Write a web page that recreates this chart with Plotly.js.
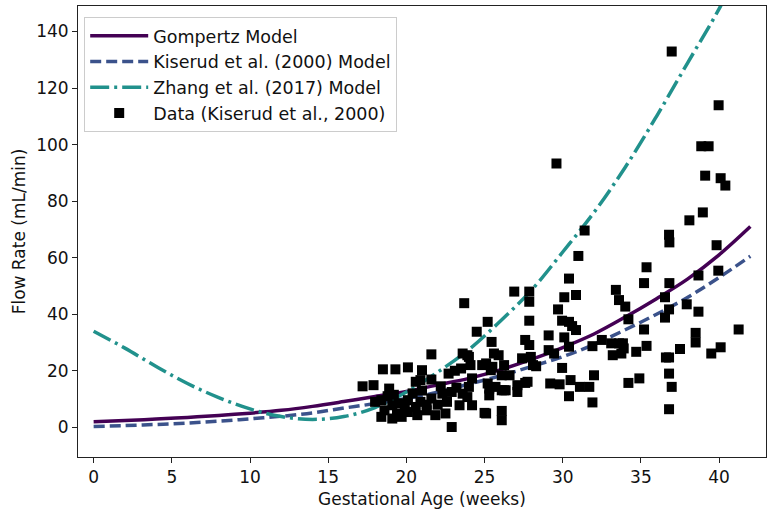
<!DOCTYPE html>
<html>
<head>
<meta charset="utf-8">
<script src="https://cdn.plot.ly/plotly-3.0.1.min.js"></script>
<style>html,body{margin:0;padding:0;background:#fff;}#chart{width:778px;height:514px;}</style>
</head>
<body>
<div id="chart"></div>
<script>
// Model curves (weeks -> mL/min)
const modelWeeks = [0,2,4,6,8,10,12,14,16,18,20,22,24,26,28,30,32,34,36,38,40,42];
const gompertz   = [2.0,2.4,2.9,3.5,4.2,5.0,6.0,7.4,9.1,10.9,12.7,15.0,17.3,20.3,24.0,28.2,33.0,39.0,45.5,52.5,61.0,71.0];
const kiserud    = [0.3,0.6,1.0,1.5,2.2,3.0,3.9,5.1,6.8,8.4,10.2,12.4,15.3,18.2,21.5,25.0,29.3,34.5,40.0,46.0,53.0,60.5];
const zhang      = [34,28,21.5,15.5,10.5,6.5,3.8,2.8,3.8,7,12.5,19.5,27.5,37.5,48.5,62,76,92,110,129,148,170];

// Measured data points (Kiserud et al., 2000)
const dataWeeks = [
36.97,39.97,38.86,39.33,39.11,40.1,40.4,38.96,38.1,36.8,36.82,39.84,35.36,35.2,36.82,39.95,38.68,36.54,36.8,37.93,38.68,36.54,34.0,34.2,35.2,41.25,38.5,38.5,33.85,35.36,34.7,37.5,40.1,39.5,36.6,36.8,36.8,34.9,34.2,36.97,36.8,
29.6,31.4,31.0,30.4,30.85,30.1,26.9,27.86,27.86,29.7,27.86,29.96,30.4,30.6,30.85,25.2,24.5,25.45,27.6,27.86,29.1,30.1,30.4,25.6,25.9,27.4,27.96,29.1,29.45,31.9,32.5,33.1,33.6,33.9,33.2,33.75,33.4,33.6,
28.3,29.96,26.6,24.85,25.2,25.7,26.25,25.3,27.1,27.6,29.2,29.8,30.5,30.4,31.1,31.7,32.0,31.9,25.0,26.1,26.1,28.1,26.25,25.5,24.1,23.9,23.7,27.75,24.0,23.9,24.2,26.35,
21.6,24.0,23.6,18.5,19.3,20.1,21.0,23.1,17.9,18.9,20.6,20.9,21.6,22.7,23.5,24.2,25.1,25.4,26.1,27.1,25.3,26.1,
18.4,19.1,20.1,20.9,21.6,22.3,22.9,23.6,18.6,19.4,20.1,20.7,21.3,21.85,22.5,23.4,18.4,19.1,19.7,22.9,25.1,
17.2,18.0,18.8,19.5,19.9,20.4,21.0,21.3,22.0,22.2,22.6,23.2,19.2,20.6];
const dataFlow = [
132.9,113.9,99.4,99.4,89.0,88.1,85.5,76.0,73.2,68.1,65.4,64.4,56.6,51.0,51.0,55.4,53.7,46.0,41.7,43.5,40.9,38.8,42.7,38.2,34.6,34.6,33.4,30.0,29.7,28.8,26.7,27.7,28.3,26.1,24.7,24.7,19.0,17.3,15.7,14.3,6.4,
93.3,69.6,60.6,52.6,46.8,46.0,48.0,48.0,44.4,41.7,37.7,37.7,37.3,35.8,34.4,37.3,33.8,30.2,30.9,29.1,32.5,31.8,28.5,26.1,25.5,24.4,24.9,27.3,26.1,28.7,30.9,29.7,29.7,27.9,25.5,26.1,48.6,45.0,
21.6,21.0,18.4,22.0,15.5,14.3,13.1,11.3,12.5,15.7,15.5,15.2,16.7,11.0,14.3,14.3,18.4,8.8,5.1,5.8,2.5,22.0,22.0,21.4,22.0,25.5,43.9,16.1,14.3,10.7,7.8,13.1,
25.8,24.9,26.1,20.5,20.5,21.2,20.2,20.0,14.9,13.7,16.1,16.7,16.9,19.0,20.8,17.3,22.6,20.2,18.4,14.9,13.7,13.1,
9.6,7.8,9.6,9.0,10.2,11.9,12.5,11.9,6.0,4.9,5.4,4.3,6.0,4.3,4.9,7.8,3.7,3.1,3.7,0.1,4.9,
14.5,9.0,11.0,8.5,6.8,12.0,13.0,8.0,8.0,14.5,9.0,14.0,11.5,7.2];

const seriesNames = ['Gompertz Model','Kiserud et al. (2000) Model','Zhang et al. (2017) Model','Data (Kiserud et al., 2000)'];
const xTicks = [0,5,10,15,20,25,30,35,40];
const yTicks = [0,20,40,60,80,100,120,140];

const traces = [
  {x: modelWeeks, y: gompertz, name: seriesNames[0], mode: 'lines', line: {color: '#440154', width: 3.5, shape: 'spline'}},
  {x: modelWeeks, y: kiserud, name: seriesNames[1], mode: 'lines', line: {color: '#3b528b', width: 3.5, dash: '11px,5px', shape: 'spline'}},
  {x: modelWeeks, y: zhang, name: seriesNames[2], mode: 'lines', line: {color: '#21918c', width: 3.5, dash: '19px,5px,3px,5px', shape: 'spline'}},
  {x: dataWeeks, y: dataFlow, name: seriesNames[3], mode: 'markers', marker: {symbol: 'square', size: 10, color: '#000'}}
];

const txt = {family: 'DejaVu Sans', size: 17, color: '#111'};
const legTxt = {family: 'DejaVu Sans', size: 17.5, color: '#111'};
const axisCommon = {
  showgrid: false, zeroline: false, showline: true, mirror: true,
  linecolor: '#222', linewidth: 1, ticks: 'outside', ticklen: 5, tickcolor: '#222', tickwidth: 1,
  tickfont: txt
};

const layout = {
  width: 778, height: 514,
  margin: {l: 78, r: 12, t: 6, b: 57},
  paper_bgcolor: '#fff', plot_bgcolor: '#fff',
  font: {family: 'DejaVu Sans', color: '#111'},
  showlegend: true,
  legend: {x: 0.009, y: 0.976, xanchor: 'left', yanchor: 'top', bgcolor: 'rgba(255,255,255,0.8)',
           bordercolor: '#ccc', borderwidth: 1, font: legTxt, itemwidth: 58, tracegroupgap: 0},
  xaxis: Object.assign({}, axisCommon, {range: [-1, 43], tickvals: xTicks,
          title: {text: 'Gestational Age (weeks)', font: txt, standoff: 6}}),
  yaxis: Object.assign({}, axisCommon, {range: [-10.5, 149], tickvals: yTicks,
          title: {text: 'Flow Rate (mL/min)', font: txt, standoff: 6}})
};

Plotly.newPlot('chart', traces, layout, {displayModeBar: false, staticPlot: true});
</script>
</body>
</html>
